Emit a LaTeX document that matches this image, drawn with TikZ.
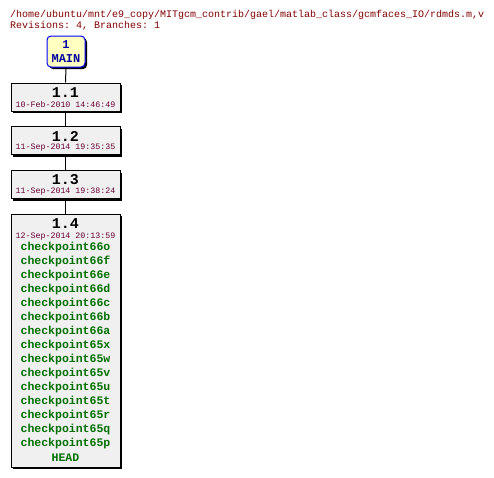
\documentclass[tikz,border=0pt]{standalone}
\usepackage{fontspec}
\setmonofont{Liberation Mono}
\usetikzlibrary{shadows}
\definecolor{hdr}{HTML}{800000}
\definecolor{datec}{HTML}{660033}
\definecolor{tagc}{HTML}{007000}
\definecolor{mainfill}{HTML}{FFFFC0}
\definecolor{mainblue}{HTML}{0000A0}
\definecolor{boxfill}{HTML}{F0F0F0}
\begin{document}
\begin{tikzpicture}[x=1pt,y=-1pt,
  revbox/.style={draw=black, fill=boxfill, line width=1pt, inner sep=0pt,
    drop shadow={shadow xshift=2pt, shadow yshift=-2pt, fill=black, opacity=1}},
  mainbox/.style={draw=blue, fill=mainfill, line width=1pt, rounded corners=4pt, inner sep=0pt,
    drop shadow={shadow xshift=2pt, shadow yshift=-2pt, fill=black, opacity=1}},
  hdrtext/.style={anchor=base west, inner sep=0pt, text=hdr, font=\ttfamily\fontsize{10}{12}\selectfont},
  revtitle/.style={inner sep=0pt, font=\ttfamily\bfseries\fontsize{15}{16}\selectfont},
  revdate/.style={inner sep=0pt, text=datec, font=\ttfamily\fontsize{8.3}{10}\selectfont},
  tagtext/.style={inner sep=0pt, text=tagc, font=\ttfamily\bfseries\fontsize{11.5}{13}\selectfont},
  maintext/.style={inner sep=0pt, text=mainblue, font=\ttfamily\bfseries\fontsize{12}{14}\selectfont},
  link/.style={draw=black, line width=1pt}]
\useasboundingbox (0,0) rectangle (494,477);
\node[hdrtext] (h1) at (10,17) {/home/ubuntu/mnt/e9\_copy/MITgcm\_contrib/gael/matlab\_class/gcmfaces\_IO/rdmds.m,v};
\node[hdrtext] (h2) at (10,28.5) {Revisions: 4, Branches: 1};
% boxes
\node[mainbox, minimum width=38pt, minimum height=31pt] (main) at (66,51.5) {};
\node[revbox, minimum width=109pt, minimum height=28pt] (r1) at (65.5,97) {};
\node[revbox, minimum width=109pt, minimum height=28pt] (r2) at (65.5,140.5) {};
\node[revbox, minimum width=109pt, minimum height=28pt] (r3) at (65.5,184.5) {};
\node[revbox, minimum width=109pt, minimum height=253pt] (r4) at (65.5,340.5) {};
% connectors
\draw[link] (main.south) -- (r1.north);
\draw[link] (r1.south) -- (r2.north);
\draw[link] (r2.south) -- (r3.north);
\draw[link] (r3.south) -- (r4.north);
% texts
\node[maintext] (m1) at (66,45) {1};
\node[maintext] (m2) at (66,58.5) {MAIN};
\node[revtitle] (t1) at (65.5,92.5) {1.1};
\node[revdate] (d1) at (65.5,104.5) {10-Feb-2010 14:46:49};
\node[revtitle] (t2) at (65.5,136) {1.2};
\node[revdate] (d2) at (65.5,148) {11-Sep-2014 19:35:35};
\node[revtitle] (t3) at (65.5,180) {1.3};
\node[revdate] (d3) at (65.5,192) {11-Sep-2014 19:38:24};
\node[revtitle] (t4) at (65.5,224) {1.4};
\node[revdate] (d4) at (65.5,236.5) {12-Sep-2014 20:13:59};
\foreach \t [count=\i from 0] in {checkpoint66o,checkpoint66f,checkpoint66e,checkpoint66d,checkpoint66c,checkpoint66b,checkpoint66a,checkpoint65x,checkpoint65w,checkpoint65v,checkpoint65u,checkpoint65t,checkpoint65r,checkpoint65q,checkpoint65p,HEAD}
  \node[tagtext] (tag\i) at (65.5,247.5+14*\i) {\t};
\end{tikzpicture}
\end{document}
